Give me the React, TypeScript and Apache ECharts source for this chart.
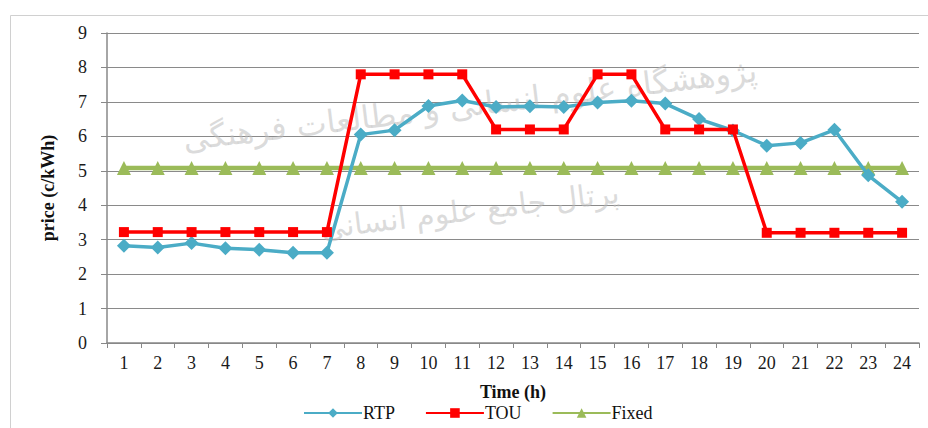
import React, { useEffect, useRef } from "react";
import * as echarts from "echarts";

const hours = ["1","2","3","4","5","6","7","8","9","10","11","12","13","14","15","16","17","18","19","20","21","22","23","24"];
const rtp = [2.82, 2.77, 2.9, 2.75, 2.71, 2.62, 2.62, 6.05, 6.18, 6.88, 7.04, 6.85, 6.87, 6.85, 6.98, 7.03, 6.95, 6.5, 6.17, 5.73, 5.81, 6.19, 4.87, 4.1];
const tou = [3.22, 3.22, 3.22, 3.22, 3.22, 3.22, 3.22, 7.8, 7.8, 7.8, 7.8, 6.2, 6.2, 6.2, 7.8, 7.8, 6.2, 6.2, 6.2, 3.2, 3.2, 3.2, 3.2, 3.2];
const fixed = [5.08, 5.08, 5.08, 5.08, 5.08, 5.08, 5.08, 5.08, 5.08, 5.08, 5.08, 5.08, 5.08, 5.08, 5.08, 5.08, 5.08, 5.08, 5.08, 5.08, 5.08, 5.08, 5.08, 5.08];
const watermark1 = "پژوهشگاه علوم انسانی و مطالعات فرهنگی";
const watermark2 = "پرتال جامع علوم انسانی";

export default function App() {
  const ref = useRef<HTMLDivElement>(null);
  useEffect(() => {
    const chart = echarts.init(ref.current!, null, { renderer: "svg" });
    const font = "Liberation Serif, DejaVu Serif, serif";
    chart.setOption({
      animation: false,
      backgroundColor: "#ffffff",
      textStyle: { fontFamily: font },
      graphic: [
        {
          type: "rect",
          shape: { x: 10.5, y: 15.5, width: 940, height: 430 },
          style: { fill: "none", stroke: "#d0d0d0", lineWidth: 1 },
          silent: true,
          z: -1,
        },
        {
          type: "text",
          x: 470,
          y: 105,
          rotation: 0.12,
          style: { text: watermark1, font: "32px DejaVu Sans", fill: "#bdbdbd", opacity: 0.55, align: "center", verticalAlign: "middle" },
          silent: true,
          z: 1,
        },
        {
          type: "text",
          x: 470,
          y: 210,
          rotation: 0.12,
          style: { text: watermark2, font: "30px DejaVu Sans", fill: "#bdbdbd", opacity: 0.55, align: "center", verticalAlign: "middle" },
          silent: true,
          z: 1,
        },
      ],
      grid: { left: 107, right: 9, top: 33, bottom: 85 },
      legend: {
        bottom: 1,
        left: 298,
        itemWidth: 58,
        itemHeight: 12,
        itemGap: 30,
        textStyle: { fontFamily: font, fontSize: 18, color: "#111", padding: [0, 0, 0, -4] },
        data: ["RTP", "TOU", "Fixed"],
      },
      xAxis: {
        type: "category",
        data: hours,
        boundaryGap: true,
        name: "Time (h)",
        nameLocation: "middle",
        nameGap: 40,
        nameTextStyle: { fontFamily: font, fontSize: 18, fontWeight: "bold", color: "#111" },
        axisLine: { lineStyle: { color: "#888", width: 1.5 } },
        axisTick: { show: true, length: 5, lineStyle: { color: "#888" } },
        axisLabel: { fontFamily: font, fontSize: 18, color: "#1a1a1a", margin: 11 },
        splitLine: { show: false },
      },
      yAxis: {
        type: "value",
        min: 0,
        max: 9,
        interval: 1,
        name: "price (c/kWh)",
        nameLocation: "middle",
        nameGap: 50,
        nameRotate: 90,
        nameTextStyle: { fontFamily: font, fontSize: 18, fontWeight: "bold", color: "#111" },
        axisLine: { show: true, lineStyle: { color: "#888", width: 1.5 } },
        axisTick: { show: true, length: 6, lineStyle: { color: "#888" } },
        axisLabel: { fontFamily: font, fontSize: 18, color: "#1a1a1a", margin: 20 },
        splitLine: { lineStyle: { color: "#8a8a8a", width: 1 } },
      },
      series: [
        {
          name: "Fixed",
          type: "line",
          data: fixed,
          symbol: "triangle",
          symbolSize: 14,
          itemStyle: { color: "#9BBB59" },
          lineStyle: { color: "#9BBB59", width: 4.5 },
          z: 2,
        },
        {
          name: "RTP",
          type: "line",
          data: rtp,
          symbol: "diamond",
          symbolSize: 14,
          itemStyle: { color: "#4BACC6" },
          lineStyle: { color: "#4BACC6", width: 3.5 },
          z: 3,
        },
        {
          name: "TOU",
          type: "line",
          data: tou,
          symbol: "rect",
          symbolSize: 10,
          itemStyle: { color: "#FF0000" },
          lineStyle: { color: "#FF0000", width: 3.5 },
          z: 4,
        },
      ],
    });
    return () => chart.dispose();
  }, []);
  return <div ref={ref} style={{ position: "absolute", left: 0, top: 0, width: 928, height: 428 }} />;
}
